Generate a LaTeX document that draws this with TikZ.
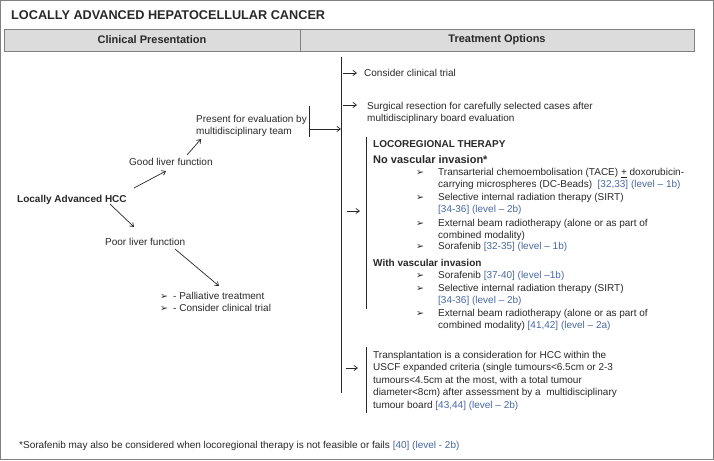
\documentclass[tikz,border=0pt]{standalone}
\usepackage{fontspec}
\setmainfont{Liberation Sans}
\newfontfamily\dejavu{DejaVu Sans}
\usetikzlibrary{arrows.meta}
\definecolor{txtc}{RGB}{40,40,40}
\definecolor{refc}{RGB}{72,104,160}
\definecolor{framec}{RGB}{128,128,128}
\definecolor{hdrfill}{RGB}{220,220,220}
\newcommand\bul{{\dejavu\fontsize{9.5}{9.5}\selectfont ➢}}
\newcommand\rf[1]{\textcolor{refc}{#1}}
\begin{document}
\begin{tikzpicture}[x=1pt,y=-1pt,
  txt/.style={inner sep=0pt, anchor=base west, text=txtc, font=\fontsize{10}{12.3}\selectfont, align=left},
  btxt/.style={txt, font=\fontsize{10}{12.3}\selectfont\bfseries},
  hdr/.style={draw=framec, fill=hdrfill, line width=0.8pt, inner sep=0pt, text=txtc, font=\fontsize{11}{13}\selectfont\bfseries, minimum height=22pt},
  conn/.style={draw=txtc, line width=0.7pt},
  arr/.style={conn, -{Straight Barb[length=3.5pt,width=5pt]}}]
\useasboundingbox (0,0) rectangle (714,460);
\draw[framec, line width=1.3pt] (0.65,0.65) rectangle (713.35,459.35);
% title and headers
\node[txt, font=\fontsize{12.7}{14}\selectfont\bfseries] (title) at (11,19.5) {LOCALLY ADVANCED HEPATOCELLULAR CANCER};
\node[hdr, minimum width=296pt] (hl) at (152,40) {Clinical Presentation};
\node[hdr, minimum width=394pt] (hr) at (497,40) {Treatment Options};
% left side
\node[btxt] (hcc) at (17,202) {Locally Advanced HCC};
\node[txt] (good) at (129,165) {Good liver function};
\node[txt] (present) at (196,134.3) {Present for evaluation by\\multidisciplinary team};
\node[txt] (poor) at (105,245.5) {Poor liver function};
\node[txt] (pb1) at (160,299.5) {\bul};
\node[txt] (pal) at (173,299.5) {- Palliative treatment};
\node[txt] (pb2) at (160,311.5) {\bul};
\node[txt] (pct) at (173,311.5) {- Consider clinical trial};
\coordinate (a1s) at (134,188); \coordinate (a1e) at (166,171);
\coordinate (a2s) at (187,155); \coordinate (a2e) at (201,139);
\coordinate (a3s) at (110,204); \coordinate (a3e) at (134,227);
\coordinate (a4s) at (175,249); \coordinate (a4e) at (219,286);
\draw[arr] (a1s) -- (a1e);
\draw[arr] (a2s) -- (a2e);
\draw[arr] (a3s) -- (a3e);
\draw[arr] (a4s) -- (a4e);
% bracket from present to main line
\coordinate (pt) at (309,106); \coordinate (pbt) at (309,137);
\coordinate (pa) at (309,129); \coordinate (pae) at (341,129);
\draw[conn] (pt) -- (pbt);
\draw[arr] (pa) -- (pae);
% main vertical line
\coordinate (vtop) at (341.5,57); \coordinate (vbot) at (341.5,393);
\draw[conn] (vtop) -- (vbot);
% options
\node[txt] (ct) at (364,76.5) {Consider clinical trial};
\coordinate (c1) at (343,73); \coordinate (c1e) at (357,73);
\draw[arr] (c1) -- (c1e);
\node[txt] (surg) at (367,121.8) {Surgical resection for carefully selected cases after\\multidisciplinary board evaluation};
\coordinate (c2) at (343,105); \coordinate (c2e) at (357,105);
\draw[arr] (c2) -- (c2e);
% locoregional block
\coordinate (lbt) at (366.5,137); \coordinate (lbb) at (366.5,309);
\draw[conn] (lbt) -- (lbb);
\coordinate (c3) at (347,211); \coordinate (c3e) at (360,211);
\draw[arr] (c3) -- (c3e);
\node[btxt] (loco) at (373,147.5) {LOCOREGIONAL THERAPY};
\node[txt, font=\fontsize{11}{13}\selectfont\bfseries] (novi) at (373,163) {No vascular invasion*};
\node[txt] (nb1) at (416,175.5) {\bul};
\node[txt] (n1) at (438,187.8) {Transarterial chemoembolisation (TACE) \underline{+} doxorubicin-\\carrying microspheres (DC-Beads) \ \rf{[32,33] (level -- 1b)}};
\node[txt] (nb2) at (416,200.5) {\bul};
\node[txt] (n2) at (438,212.8) {Selective internal radiation therapy (SIRT)\\\rf{[34-36] (level -- 2b)}};
\node[txt] (nb3) at (416,226.5) {\bul};
\node[txt] (n3) at (438,238.8) {External beam radiotherapy (alone or as part of\\combined modality)};
\node[txt] (nb4) at (416,249.5) {\bul};
\node[txt] (n4) at (438,249.5) {Sorafenib \rf{[32-35] (level -- 1b)}};
\node[btxt] (wvi) at (373,266.5) {With vascular invasion};
\node[txt] (wb1) at (416,278.5) {\bul};
\node[txt] (w1) at (438,278.5) {Sorafenib \rf{[37-40] (level --1b)}};
\node[txt] (wb2) at (416,291) {\bul};
\node[txt] (w2) at (438,303.3) {Selective internal radiation therapy (SIRT)\\\rf{[34-36] (level -- 2b)}};
\node[txt] (wb3) at (416,316) {\bul};
\node[txt] (w3) at (438,328.3) {External beam radiotherapy (alone or as part of\\combined modality) \rf{[41,42] (level -- 2a)}};
% transplant block
\coordinate (tbt) at (366.5,347); \coordinate (tbb) at (366.5,413);
\draw[conn] (tbt) -- (tbb);
\coordinate (c4) at (346,368); \coordinate (c4e) at (358,368);
\draw[arr] (c4) -- (c4e);
\node[txt, font=\fontsize{10}{12.4}\selectfont] (tx) at (373,408.1) {Transplantation is a consideration for HCC within the\\USCF expanded criteria (single tumours<6.5cm or 2-3\\tumours<4.5cm at the most, with a total tumour\\diameter<8cm) after assessment by a \ multidisciplinary\\tumour board \rf{[43,44] (level -- 2b)}};
% footnote
\node[txt] (foot) at (19,448.5) {*Sorafenib may also be considered when locoregional therapy is not feasible or fails \rf{[40] (level - 2b)}};
\end{tikzpicture}
\end{document}
